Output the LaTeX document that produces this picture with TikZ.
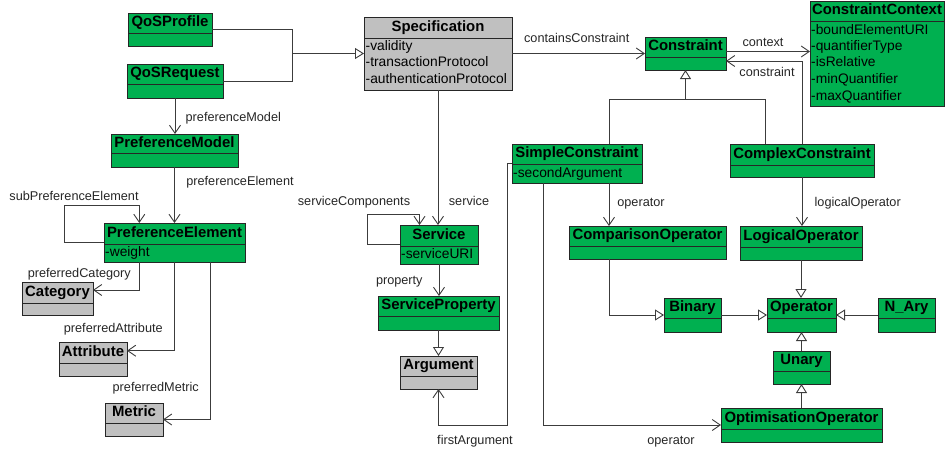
\documentclass[tikz,border=0pt]{standalone}
\usepackage{fontspec}
\setmainfont{Liberation Sans}
\usetikzlibrary{arrows.meta,calc}
\definecolor{umlgreen}{RGB}{0,176,80}
\definecolor{umlgray}{RGB}{192,192,192}
\definecolor{linegray}{RGB}{60,60,60}
\tikzset{
  umlbox/.style={draw=black!85, line width=1pt, rectangle, inner sep=0pt, outer sep=0pt},
  umldiv/.style={draw=black!85, line width=1pt},
  umltitle/.style={font=\fontsize{14.9}{16}\selectfont\bfseries, inner sep=0pt, text height=0.716em, text depth=0pt},
  umlattr/.style={font=\fontsize{13.8}{15}\selectfont, inner sep=0pt, anchor=west, text height=0.716em, text depth=0pt},
  lbl/.style={font=\fontsize{12.7}{14}\selectfont, inner sep=0pt, text=black!85, text height=0.716em, text depth=0pt},
  conn/.style={draw=linegray, line width=0.9pt},
  assoc/.style={conn, -{Straight Barb[length=8pt,width=11pt,line width=0.9pt]}},
  gen/.style={conn, -{Triangle[open,length=9pt,width=11pt,line width=0.9pt,fill=white]}}
}
\newcommand{\umlclassbox}[8]{%
  \node[umlbox, fill=#7, minimum width={(#4-#2)*1pt}, minimum height={(#5-#3)*1pt}] (#1) at ({(#2+#4)/2},{(#3+#5)/2}) {};
  \draw[umldiv] (#2,#6) -- (#4,#6);
  \node[umltitle] (#1-t) at ({(#2+#4)/2},{(#3+#6)/2}) {#8};
}
\begin{document}
\begin{tikzpicture}[x=1pt,y=-1pt]
\useasboundingbox (0,0) rectangle (945,453);

% ---------- classes ----------
\umlclassbox{qosp}{128}{13}{212}{46}{33}{umlgreen}{QoSProfile}
\umlclassbox{qosr}{127}{64}{223}{98}{84}{umlgreen}{QoSRequest}
\umlclassbox{spec}{364}{17}{512}{90}{38}{umlgray}{Specification}
\node[umlattr] (spec-a1) at (365.5,46.7) {-validity};
\node[umlattr] (spec-a2) at (365.5,63) {-transactionProtocol};
\node[umlattr] (spec-a3) at (365.5,79.5) {-authenticationProtocol};
\umlclassbox{constr}{645}{37}{726}{70}{57}{umlgreen}{Constraint}
\umlclassbox{ctx}{810}{1}{944}{106}{21}{umlgreen}{ConstraintContext}
\node[umlattr] (ctx-a1) at (811,30.5) {-boundElementURI};
\node[umlattr] (ctx-a2) at (811,47) {-quantifierType};
\node[umlattr] (ctx-a3) at (811,63.4) {-isRelative};
\node[umlattr] (ctx-a4) at (811,80) {-minQuantifier};
\node[umlattr] (ctx-a5) at (811,96.5) {-maxQuantifier};
\umlclassbox{simple}{512}{144}{642}{183}{164}{umlgreen}{SimpleConstraint}
\node[umlattr] (simple-a1) at (513,173.5) {-secondArgument};
\umlclassbox{complex}{730}{144}{874}{177}{165}{umlgreen}{ComplexConstraint}
\umlclassbox{compop}{569}{226}{726}{259}{246}{umlgreen}{ComparisonOperator}
\umlclassbox{logop}{740}{226}{862}{260}{247}{umlgreen}{LogicalOperator}
\umlclassbox{binary}{664}{298}{721}{332}{318}{umlgreen}{Binary}
\umlclassbox{oper}{767}{298}{836}{332}{318}{umlgreen}{Operator}
\umlclassbox{nary}{878}{298}{935}{332}{318}{umlgreen}{N\_Ary}
\umlclassbox{unary}{773}{351}{830}{384}{371}{umlgreen}{Unary}
\umlclassbox{optop}{721}{408}{882}{442}{429}{umlgreen}{OptimisationOperator}
\umlclassbox{service}{400}{225}{478}{264}{246}{umlgreen}{Service}
\node[umlattr] (service-a1) at (401,255) {-serviceURI};
\umlclassbox{sprop}{378}{296}{499}{330}{316}{umlgreen}{ServiceProperty}
\umlclassbox{arg}{400}{356}{477}{389}{376}{umlgray}{Argument}
\umlclassbox{pm}{111}{134}{238}{167}{153.5}{umlgreen}{PreferenceModel}
\umlclassbox{pe}{104}{223}{245}{262}{244}{umlgreen}{PreferenceElement}
\node[umlattr] (pe-a1) at (105,253) {-weight};
\umlclassbox{cat}{22}{282}{93}{315}{303}{umlgray}{Category}
\umlclassbox{attr}{59}{342}{127}{376}{363}{umlgray}{Attribute}
\umlclassbox{metric}{105}{403}{163}{436}{423}{umlgray}{Metric}

% ---------- connectors ----------
\coordinate (jn) at (292,53.5);
\draw[conn] (qosp.east) -| (jn);
\draw[conn] (qosr.east) -| (jn);
\draw[gen] (jn) -- (spec.west);

\draw[assoc] (spec.east) -- (constr.west);
\node[lbl] (l-cc) at (576.7,39) {containsConstraint};

\draw[assoc] ([yshift=2pt]constr.east) -- ([yshift=2pt]constr.east -| ctx.west);
\node[lbl] (l-ctx) at (763,42.7) {context};

\draw[assoc] (complex.north) |- ([yshift=-7.5pt]constr.east);
\node[lbl] (l-con) at (767,72.7) {constraint};

\coordinate (gbar) at (685.5,99);
\draw[gen] ([xshift=32pt]simple.north) |- (gbar) -- (constr.south);
\draw[conn] ([xshift=-36.3pt]complex.north) |- (gbar);

\draw[assoc] (spec.south) -- (spec.south |- service.north);
\node[lbl] (l-srv) at (469,202) {service};

\draw[assoc] (service.west) -- ++(-33,0) -- ++(0,-30.5) -| ([xshift=-19.5pt]service.north);
\node[lbl] (l-sc) at (354,202) {serviceComponents};

\draw[assoc] (service.south) -- (service.south |- sprop.north);
\node[lbl] (l-prop) at (399.3,281) {property};

\draw[gen] (sprop.south) -- (arg.north);

\coordinate (fa) at (438.5,425);
\draw[assoc] (simple.west) -- ++(-5,0) |- (fa) -- (arg.south);
\node[lbl] (l-fa) at (475,440.7) {firstArgument};

\draw[assoc] ([xshift=-33.7pt]simple.south) |- (optop.west);
\node[lbl] (l-op2) at (671,440.7) {operator};

\draw[assoc] ([xshift=32pt]simple.south) -- ([xshift=32pt]simple.south |- compop.north);
\node[lbl] (l-op1) at (641,202.7) {operator};

\draw[gen] ([xshift=-38.5pt]compop.south) |- (binary.west);
\draw[gen] (binary.east) -- (oper.west);
\draw[gen] (nary.west) -- (oper.east);
\draw[gen] (logop.south) -- (logop.south |- oper.north);
\draw[assoc] (complex.south) -- (complex.south |- logop.north);
\node[lbl] (l-lo) at (857.7,202.7) {logicalOperator};
\draw[gen] (unary.north) -- (oper.south);
\draw[gen] (optop.north) -- (unary.south);

\draw[assoc] (qosr.south) -- (qosr.south |- pm.north);
\node[lbl] (l-pm) at (233.3,118.3) {preferenceModel};
\draw[assoc] (pm.south) -- (pm.south |- pe.north);
\node[lbl] (l-pe) at (240,182.3) {preferenceElement};

\draw[assoc] (pe.west) -- ++(-39.7,0) -- ++(0,-37) -| ([xshift=-35.2pt]pe.north);
\node[lbl] (l-spe) at (74,196.7) {subPreferenceElement};

\draw[assoc] ([xshift=-35.2pt]pe.south) |- ([yshift=8.5pt]cat.east);
\node[lbl] (l-pc) at (79.3,274) {preferredCategory};
\draw[assoc] (pe.south) |- ([yshift=8.3pt]attr.east);
\node[lbl] (l-pa) at (113.3,329.3) {preferredAttribute};
\draw[assoc] ([xshift=35.5pt]pe.south) |- (metric.east);
\node[lbl] (l-pmet) at (155.7,388) {preferredMetric};
\end{tikzpicture}
\end{document}
